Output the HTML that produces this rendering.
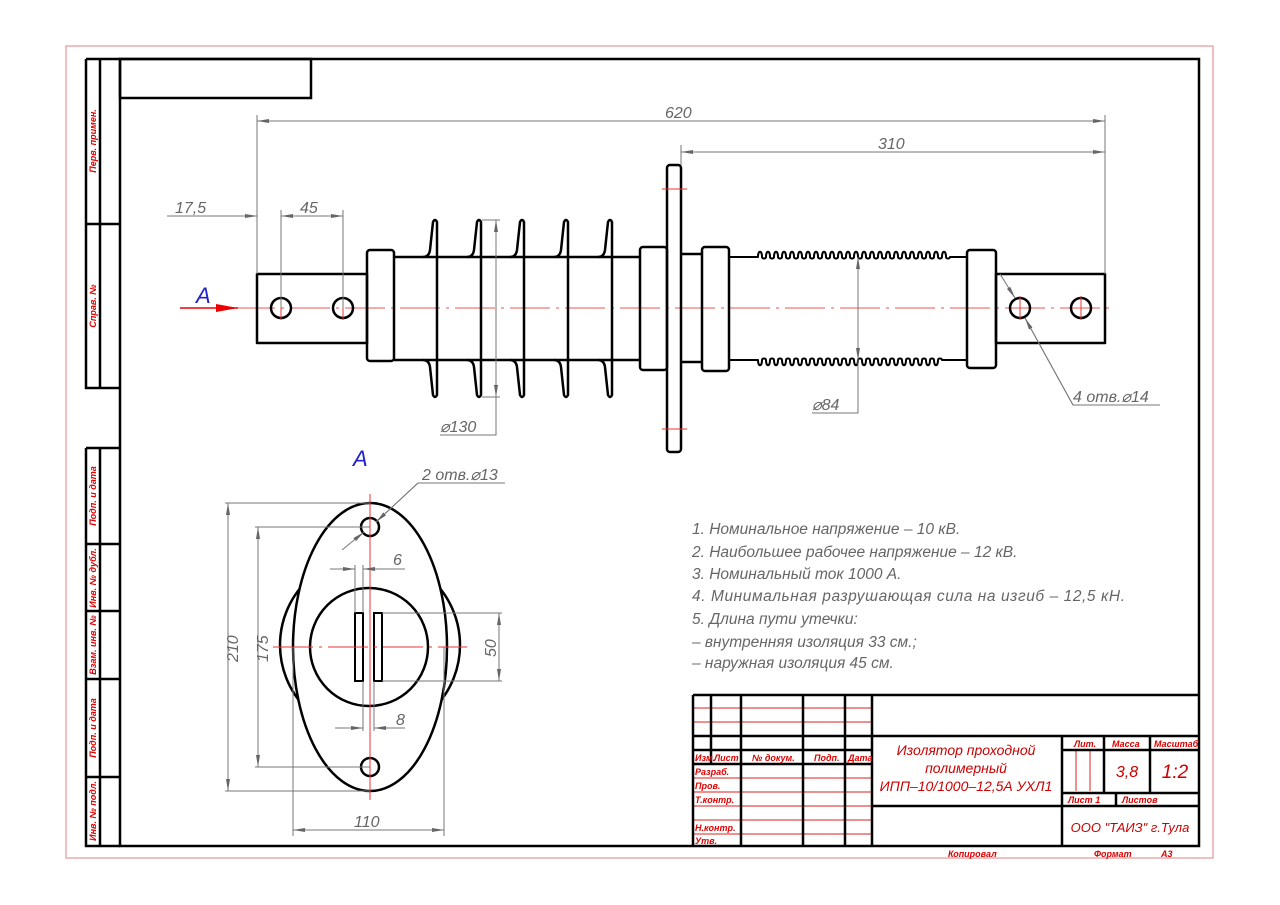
<!DOCTYPE html>
<html><head><meta charset="utf-8"><style>
html,body{margin:0;padding:0;background:#fff;}
svg{display:block;}
text{font-family:"Liberation Sans",sans-serif;font-style:italic;}
.d{stroke:#777;stroke-width:1;fill:none;}
.k{stroke:#000;stroke-width:2.5;fill:none;}
.r{stroke:#e33;stroke-width:1;fill:none;}
.dt{fill:#666;font-size:16px;}
.tr{fill:#d00;font-size:9px;font-weight:bold;}
.tb{fill:#c00;}
</style></head><body>
<svg width="1280" height="905" viewBox="0 0 1280 905" xmlns="http://www.w3.org/2000/svg">
<defs>
<marker id="a" viewBox="0 0 12 4" refX="12" refY="2" markerWidth="12" markerHeight="4" orient="auto-start-reverse" markerUnits="userSpaceOnUse"><path d="M0,0 L12,2 L0,4z" fill="#666"/></marker>
<marker id="ra" viewBox="0 0 22 8" refX="22" refY="4" markerWidth="22" markerHeight="8" orient="auto" markerUnits="userSpaceOnUse"><path d="M0,0 L22,4 L0,8z" fill="#e00"/></marker>
</defs>
<rect x="66" y="46" width="1147" height="812" fill="none" stroke="#e08080" stroke-width="1"/>
<rect x="120" y="59" width="1079" height="787" fill="none" stroke="#000" stroke-width="2.5"/>
<rect x="120" y="59" width="191" height="39" fill="none" stroke="#000" stroke-width="2.5"/>
<g stroke="#000" stroke-width="2.5" fill="none">
<path d="M86,59 V388 H120 M100,59 V388 M86,59 H120 M86,224 H120"/>
<path d="M86,448 H120 M86,448 V846 H120 M100,448 V846 M86,544 H120 M86,611 H120 M86,679 H120 M86,777 H120"/>
</g>
<g class="tr">
<text transform="translate(96,141) rotate(-90)" text-anchor="middle">Перв. примен.</text>
<text transform="translate(96,306) rotate(-90)" text-anchor="middle">Справ. №</text>
<text transform="translate(96,496) rotate(-90)" text-anchor="middle">Подп. и дата</text>
<text transform="translate(96,578) rotate(-90)" text-anchor="middle">Инв. № дубл.</text>
<text transform="translate(96,645) rotate(-90)" text-anchor="middle">Взам. инв. №</text>
<text transform="translate(96,728) rotate(-90)" text-anchor="middle">Подп. и дата</text>
<text transform="translate(96,811) rotate(-90)" text-anchor="middle">Инв. № подл.</text>
</g>

<line x1="180" y1="308" x2="1115" y2="308" stroke="#e55" stroke-width="1" stroke-dasharray="40,6,3,6"/>
<line x1="180" y1="308" x2="238" y2="308" stroke="#e00" stroke-width="1.5" marker-end="url(#ra)"/>
<text x="196" y="303" fill="#22c" font-size="22">A</text>

<g class="k" stroke-linejoin="round">
<rect x="257" y="274" width="110" height="69"/>
<circle cx="281" cy="308" r="10"/><circle cx="343" cy="308" r="10"/>
<rect x="367" y="250" width="27" height="111" rx="3"/>
<path d="M394,257 H640 M394,360 H640"/>
<path d="M423,257 Q429,257 430,250 L433,222 Q435,218 437,222 L437,395 Q435,399 433,395 L430,367 Q429,360 423,360"/>
<path d="M467,257 Q473,257 474,250 L477,222 Q479,218 481,222 L481,395 Q479,399 477,395 L474,367 Q473,360 467,360"/>
<path d="M510,257 Q516,257 517,250 L520,222 Q522,218 524,222 L524,395 Q522,399 520,395 L517,367 Q516,360 510,360"/>
<path d="M554,257 Q560,257 561,250 L564,222 Q566,218 568,222 L568,395 Q566,399 564,395 L561,367 Q560,360 554,360"/>
<path d="M598,257 Q604,257 605,250 L608,222 Q610,218 612,222 L612,395 Q610,399 608,395 L605,367 Q604,360 598,360"/>
<rect x="640" y="247" width="27" height="123" rx="3"/>
<rect x="667" y="165" width="14" height="287" rx="3"/>
<path d="M681,254 H702 M681,362 H702"/>
<rect x="702" y="247" width="27" height="124" rx="3"/>
<path d="M729,257 H758 c0,-7 4,-7 4,0 c0,2 4,2 4,0 c0,-7 4,-7 4,0 c0,2 4,2 4,0 c0,-7 4,-7 4,0 c0,2 4,2 4,0 c0,-7 4,-7 4,0 c0,2 4,2 4,0 c0,-7 4,-7 4,0 c0,2 4,2 4,0 c0,-7 4,-7 4,0 c0,2 4,2 4,0 c0,-7 4,-7 4,0 c0,2 4,2 4,0 c0,-7 4,-7 4,0 c0,2 4,2 4,0 c0,-7 4,-7 4,0 c0,2 4,2 4,0 c0,-7 4,-7 4,0 c0,2 4,2 4,0 c0,-7 4,-7 4,0 c0,2 4,2 4,0 c0,-7 4,-7 4,0 c0,2 4,2 4,0 c0,-7 4,-7 4,0 c0,2 4,2 4,0 c0,-7 4,-7 4,0 c0,2 4,2 4,0 c0,-7 4,-7 4,0 c0,2 4,2 4,0 c0,-7 4,-7 4,0 c0,2 4,2 4,0 c0,-7 4,-7 4,0 c0,2 4,2 4,0 c0,-7 4,-7 4,0 c0,2 4,2 4,0 c0,-7 4,-7 4,0 c0,2 4,2 4,0 c0,-7 4,-7 4,0 c0,2 4,2 4,0 c0,-7 4,-7 4,0 c0,2 4,2 4,0 c0,-7 4,-7 4,0 c0,2 4,2 4,0 c0,-7 4,-7 4,0 c0,2 4,2 4,0 c0,-7 4,-7 4,0 c0,2 4,2 4,0 H967" stroke-width="2"/>
<path d="M729,360 H758 c0,7 4,7 4,0 c0,-2 4,-2 4,0 c0,7 4,7 4,0 c0,-2 4,-2 4,0 c0,7 4,7 4,0 c0,-2 4,-2 4,0 c0,7 4,7 4,0 c0,-2 4,-2 4,0 c0,7 4,7 4,0 c0,-2 4,-2 4,0 c0,7 4,7 4,0 c0,-2 4,-2 4,0 c0,7 4,7 4,0 c0,-2 4,-2 4,0 c0,7 4,7 4,0 c0,-2 4,-2 4,0 c0,7 4,7 4,0 c0,-2 4,-2 4,0 c0,7 4,7 4,0 c0,-2 4,-2 4,0 c0,7 4,7 4,0 c0,-2 4,-2 4,0 c0,7 4,7 4,0 c0,-2 4,-2 4,0 c0,7 4,7 4,0 c0,-2 4,-2 4,0 c0,7 4,7 4,0 c0,-2 4,-2 4,0 c0,7 4,7 4,0 c0,-2 4,-2 4,0 c0,7 4,7 4,0 c0,-2 4,-2 4,0 c0,7 4,7 4,0 c0,-2 4,-2 4,0 c0,7 4,7 4,0 c0,-2 4,-2 4,0 c0,7 4,7 4,0 c0,-2 4,-2 4,0 c0,7 4,7 4,0 c0,-2 4,-2 4,0 c0,7 4,7 4,0 c0,-2 4,-2 4,0 c0,7 4,7 4,0 c0,-2 4,-2 4,0 c0,7 4,7 4,0 c0,-2 4,-2 4,0 H967" stroke-width="2"/>
<rect x="967" y="250" width="29" height="118" rx="3"/>
<rect x="996" y="274" width="109" height="69"/>
<circle cx="1020" cy="308" r="10"/><circle cx="1081" cy="308" r="10"/>
</g>
<g class="r">
<path d="M662,189 H687 M662,429 H687"/>
<path d="M281,296 V320 M343,296 V320 M1020,296 V320 M1081,296 V320"/>
</g>
<g class="d">
<path d="M257,115 V274 M1105,115 V274 M681,145 V165 M281,210 V308 M343,210 V308"/>
<line x1="257" y1="121" x2="1105" y2="121" marker-start="url(#a)" marker-end="url(#a)"/>
<line x1="681" y1="152" x2="1105" y2="152" marker-start="url(#a)" marker-end="url(#a)"/>
<line x1="167" y1="216" x2="257" y2="216" marker-end="url(#a)"/>
<line x1="281" y1="216" x2="343" y2="216" marker-start="url(#a)" marker-end="url(#a)"/>
<path d="M482,220 H500 M482,397 H500 M440,435 H496 V397"/>
<line x1="496" y1="220" x2="496" y2="397" marker-start="url(#a)" marker-end="url(#a)"/>
<path d="M812,413 H858 V360"/>
<line x1="858" y1="257" x2="858" y2="360" marker-start="url(#a)" marker-end="url(#a)"/>
<line x1="1000" y1="274" x2="1015" y2="298" marker-end="url(#a)"/>
<path d="M1025,318 L1073,405 H1160"/>
<line x1="1073" y1="405" x2="1025" y2="318" marker-end="url(#a)"/>
</g>
<g class="dt">
<text x="665" y="118">620</text>
<text x="878" y="149">310</text>
<text x="175" y="213">17,5</text>
<text x="300" y="213">45</text>
<text x="440" y="432">⌀130</text>
<text x="812" y="410">⌀84</text>
<text x="1073" y="402">4 отв.⌀14</text>
</g>

<text x="353" y="466" fill="#22c" font-size="22">A</text>
<g class="k">
<circle cx="370" cy="645" r="90"/>
<ellipse cx="370" cy="647" rx="77" ry="144" fill="#fff"/>
<circle cx="369" cy="647" r="59"/>
<rect x="355" y="613" width="8" height="68" stroke-width="2"/>
<rect x="374" y="613" width="8" height="68" stroke-width="2"/>
<circle cx="370" cy="527" r="9"/><circle cx="370" cy="767" r="9"/>
</g>
<g class="r">
<path d="M370,494 V800"/>
<path d="M273,647 H467" stroke-dasharray="40,6,3,6"/>
</g>
<g class="d">
<path d="M225,503 H370 M225,791 H370 M255,527 H370 M255,767 H370 M382,613 H502 M382,681 H502 M293,647 V836 M444,647 V836"/>
<line x1="228" y1="503" x2="228" y2="791" marker-start="url(#a)" marker-end="url(#a)"/>
<line x1="258" y1="527" x2="258" y2="767" marker-start="url(#a)" marker-end="url(#a)"/>
<line x1="499" y1="613" x2="499" y2="681" marker-start="url(#a)" marker-end="url(#a)"/>
<line x1="293" y1="830" x2="444" y2="830" marker-start="url(#a)" marker-end="url(#a)"/>
<path d="M355,565 V613 M363,565 V613 M363,681 V731 M374,681 V731"/>
<line x1="330" y1="569" x2="355" y2="569" marker-end="url(#a)"/>
<line x1="405" y1="569" x2="363" y2="569" marker-end="url(#a)"/>
<line x1="335" y1="728" x2="363" y2="728" marker-end="url(#a)"/>
<line x1="405" y1="728" x2="374" y2="728" marker-end="url(#a)"/>
<line x1="342" y1="550" x2="364" y2="532" marker-end="url(#a)"/>
<path d="M376,522 L418,483 H505"/>
<line x1="418" y1="483" x2="376" y2="522" marker-end="url(#a)"/>
</g>
<g class="dt">
<text transform="translate(238,662) rotate(-90)">210</text>
<text transform="translate(268,662) rotate(-90)">175</text>
<text transform="translate(496,657) rotate(-90)">50</text>
<text x="354" y="827">110</text>
<text x="393" y="565">6</text>
<text x="396" y="725">8</text>
<text x="422" y="480">2 отв.⌀13</text>
</g>

<g fill="#666" font-size="15.5">
<text x="692" y="534">1. Номинальное напряжение – 10 кВ.</text>
<text x="692" y="557">2. Наибольшее рабочее напряжение – 12 кВ.</text>
<text x="692" y="579">3. Номинальный ток 1000 А.</text>
<text x="692" y="601" textLength="433">4. Минимальная разрушающая сила на изгиб – 12,5 кН.</text>
<text x="692" y="624">5. Длина пути утечки:</text>
<text x="692" y="647">– внутренняя изоляция 33 см.;</text>
<text x="692" y="668">– наружная изоляция 45 см.</text>
</g>

<g stroke="#d22" stroke-width="1">
<path d="M693,708 H872 M693,722 H872 M693,778 H872 M693,792 H872 M693,806 H872 M693,820 H872 M693,834 H872"/>
<path d="M1076,750 V791 M1090,750 V791"/>
</g>
<g stroke="#000" stroke-width="2.5" fill="none">
<path d="M693,695 H1199 M693,695 V846"/>
<path d="M693,736 H1199 M693,750 H872 M693,764 H872"/>
<path d="M711,695 V764 M741,695 V846 M803,695 V846 M845,695 V846 M872,695 V846"/>
<path d="M1062,736 V846 M872,806 H1199 M1062,750 H1199 M1062,793 H1199 M1104,736 V793 M1150,736 V793 M1116,793 V806"/>
</g>
<g class="tr" font-size="8">
<text x="695" y="761">Изм.</text><text x="714" y="761">Лист</text><text x="752" y="761">№ докум.</text><text x="814" y="761">Подп.</text><text x="848" y="761">Дата</text>
<text x="695" y="775">Разраб.</text><text x="695" y="789">Пров.</text><text x="695" y="803">Т.контр.</text>
<text x="695" y="831">Н.контр.</text><text x="695" y="844">Утв.</text>
<text x="1074" y="747">Лит.</text><text x="1112" y="747">Масса</text><text x="1154" y="747">Масштаб</text>
<text x="1068" y="803">Лист  1</text><text x="1122" y="803">Листов</text>
<text x="948" y="857">Копировал</text><text x="1094" y="857">Формат</text><text x="1161" y="857">А3</text>
</g>
<g class="tb" font-size="14" text-anchor="middle">
<text x="966" y="755">Изолятор проходной</text>
<text x="966" y="773">полимерный</text>
<text x="966" y="791">ИПП–10/1000–12,5А УХЛ1</text>
<text x="1127" y="777" font-size="16">3,8</text>
<text x="1175" y="778" font-size="19">1:2</text>
<text x="1130" y="832" font-size="13">ООО  "ТАИЗ" г.Тула</text>
</g>
</svg>
</body></html>
